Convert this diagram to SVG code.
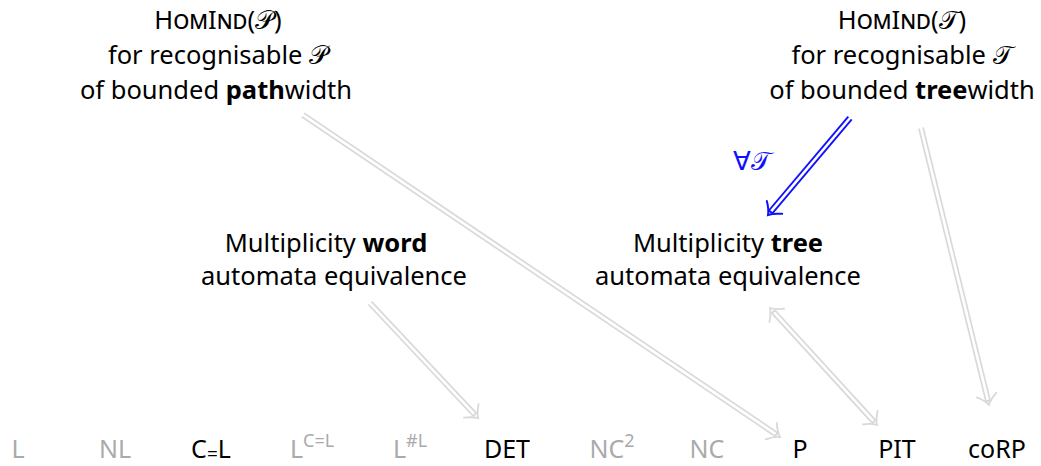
<svg xmlns="http://www.w3.org/2000/svg" width="1041" height="466" viewBox="0 0 1041 466">
<style>
text{font-family:"Noto Sans","Open Sans",sans-serif;font-size:25.5px;fill:#000;text-anchor:middle}
.sc{font-variant:small-caps}
.cal{font-family:"DejaVu Sans","Noto Sans",serif;font-style:normal}
.b{font-weight:bold}
.g{fill:#aaaaaa}
.o{fill:none;stroke:#d9d9d9;stroke-width:6;stroke-linecap:butt}
.i{fill:none;stroke:#fff;stroke-width:2.6}
.h{fill:none;stroke:#d9d9d9;stroke-width:1.8;stroke-linecap:round}
.ob{fill:none;stroke:#1010ff;stroke-width:6.4}
.hb{fill:none;stroke:#1010ff;stroke-width:2;stroke-linecap:round}
.bot{font-size:25px}
.sup{font-size:18px}
</style>
<rect width="1041" height="466" fill="#fff"/>
<g id="connectors">
<g transform="translate(303,115) rotate(34.02)"><line class="o" x1="0" y1="0" x2="572" y2="0"/><line class="i" x1="-1" y1="0" x2="570" y2="0"/><path class="h" d="M565,-10 Q570,-3 575.5,0 Q570,3 565,10"/></g>
<g transform="translate(370,303) rotate(46.8)"><line class="o" x1="0" y1="0" x2="154" y2="0"/><line class="i" x1="-1" y1="0" x2="152" y2="0"/><path class="h" d="M148,-10 Q153,-3 158,0 Q153,3 148,10"/></g>
<g transform="translate(770,308) rotate(47.55)"><line class="o" x1="4" y1="0" x2="155" y2="0"/><line class="i" x1="6" y1="0" x2="153" y2="0"/><path class="h" d="M148.5,-10 Q153.5,-3 158.5,0 Q153.5,3 148.5,10"/><path class="h" d="M10,-10 Q5,-3 0,0 Q5,3 10,10"/></g>
<g transform="translate(921,128) rotate(76.2)"><line class="o" x1="0" y1="0" x2="282" y2="0"/><line class="i" x1="-1" y1="0" x2="280" y2="0"/><path class="h" d="M275,-10 Q280,-3 285,0 Q280,3 275,10"/></g>
<g id="forall-arrow" transform="translate(850,118) rotate(130.2)"><line class="ob" x1="0" y1="0" x2="124" y2="0"/><line class="i" x1="-1" y1="0" x2="122" y2="0"/><path class="hb" d="M117,-10 Q122,-3 127,0 Q122,3 117,10"/></g>
<text x="752" y="170" style="fill:#1010ff">∀<tspan class="cal" style="fill:#1010ff">𝒯</tspan></text>
</g>
<g id="homind-p">
<text x="218" y="29"><tspan class="sc">HomInd</tspan>(<tspan class="cal">𝒫</tspan>)</text>
<text x="218" y="64">for recognisable <tspan class="cal">𝒫</tspan></text>
<text x="216" y="99">of bounded <tspan class="b">path</tspan>width</text>
</g>
<g id="homind-t">
<text x="902" y="29"><tspan class="sc">HomInd</tspan>(<tspan class="cal">𝒯</tspan>)</text>
<text x="902" y="64">for recognisable <tspan class="cal">𝒯</tspan></text>
<text x="902" y="99">of bounded <tspan class="b">tree</tspan>width</text>
</g>
<g id="word">
<text x="326" y="252">Multiplicity <tspan class="b">word</tspan></text>
<text x="334" y="285">automata equivalence</text>
</g>
<g id="tree">
<text x="728" y="252">Multiplicity <tspan class="b">tree</tspan></text>
<text x="728" y="285">automata equivalence</text>
</g>
<g id="classes">
<text id="c-L" class="g bot" x="18" y="458">L</text>
<text id="c-NL" class="g bot" x="115" y="458">NL</text>
<text id="c-CeqL" class="bot" x="211" y="458">C<tspan font-size="19" dy="3">=</tspan><tspan dy="-3">L</tspan></text>
<text id="c-LCeqL" class="g bot" x="312" y="458">L<tspan class="sup" dy="-11">C=L</tspan></text>
<text id="c-LsharpL" class="g bot" x="410" y="458">L<tspan class="sup" dy="-11">#L</tspan></text>
<text id="c-DET" class="bot" x="507" y="458">DET</text>
<text id="c-NC2" class="g bot" x="612" y="458">NC<tspan class="sup" dy="-11">2</tspan></text>
<text id="c-NC" class="g bot" x="707" y="458">NC</text>
<text id="c-P" class="bot" x="800" y="458">P</text>
<text id="c-PIT" class="bot" x="897" y="458">PIT</text>
<text id="c-coRP" class="bot" x="997" y="458">coRP</text>
</g>
</svg>
